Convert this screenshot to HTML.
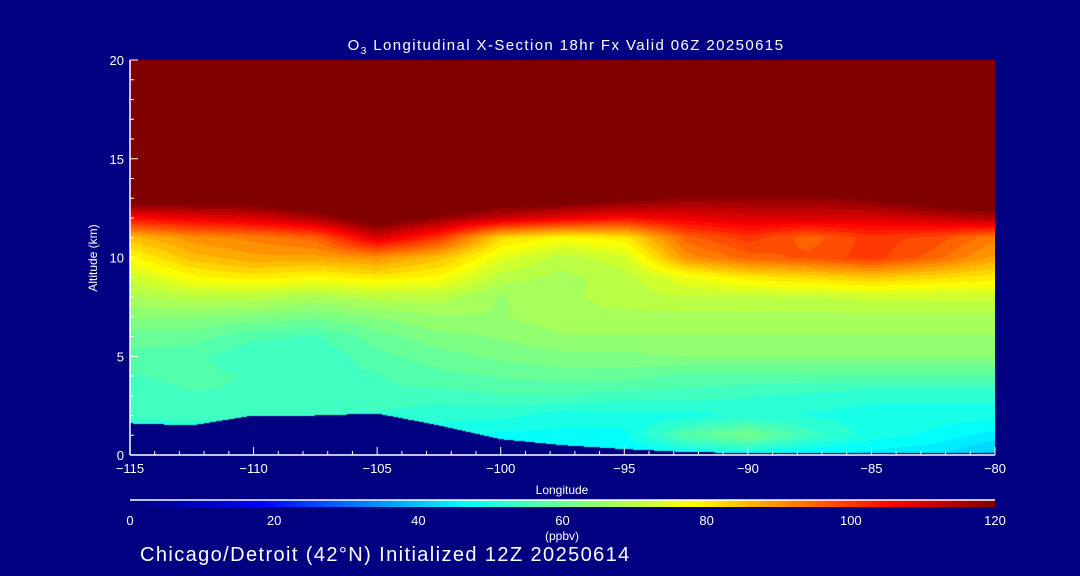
<!DOCTYPE html>
<html><head><meta charset="utf-8"><style>
html,body{margin:0;padding:0;background:#000080;width:1080px;height:576px;overflow:hidden}
#wrap{position:relative;width:1080px;height:576px}
svg text{font-family:"Liberation Sans",sans-serif;fill:#fff}
canvas{position:absolute;left:130px;top:60px}
</style></head><body>
<div id="wrap">
<canvas id="cv" width="865" height="395"></canvas>
<svg id="sv" width="1080" height="576" style="position:absolute;left:0;top:0">
<defs><linearGradient id="jet" x1="0" x2="1" y1="0" y2="0">
<stop offset="0" stop-color="#000080"/><stop offset="0.15" stop-color="#0000ff"/>
<stop offset="0.39" stop-color="#00ffff"/><stop offset="0.525" stop-color="#80ff80"/>
<stop offset="0.65" stop-color="#ffff00"/><stop offset="0.883" stop-color="#ff0000"/>
<stop offset="1" stop-color="#800000"/></linearGradient></defs>
<text x="566" y="50" text-anchor="middle" font-size="15" letter-spacing="1.4">O<tspan font-size="10" dy="4">3</tspan><tspan dy="-4"> Longitudinal X-Section 18hr  Fx Valid 06Z 20250615</tspan></text>
<text transform="translate(97,258) rotate(-90)" text-anchor="middle" font-size="12">Altitude (km)</text>
<text x="562" y="494" text-anchor="middle" font-size="12">Longitude</text>
<rect x="130" y="500" width="865" height="7" fill="url(#jet)"/>
<line x1="130" y1="500" x2="995" y2="500" stroke="#fff" stroke-width="1.5"/>
<text x="562" y="540" text-anchor="middle" font-size="12">(ppbv)</text>
<text x="140" y="561" font-size="20" letter-spacing="1.4">Chicago/Detroit (42°N) Initialized 12Z 20250614</text>
<g id="axes"></g>
</svg>
</div>
<script>
const lons=[-115,-112.5,-110,-107.5,-105,-102.5,-100,-97.5,-95,-92.5,-90,-87.5,-85,-82.5,-80];
const alts=[0,1,2,3,4,5,6,7,8,9,10,11,12,13,14,15,16,17,18,19,20];
const o3=[
[45,45,45,45,45,45,45,46,46,47,48,46,45,44,40],
[50,50,50,50,50,50,48,48,48,58,62,55,50,48,45],
[55,55,55,54,53,52,52,50,50,50,52,51,50,50,50],
[55,56,56,56,56,55,56,56,55,55,54,53,52,52,52],
[56,57,56,55,56,58,59,60,60,58,58,58,58,58,58],
[58,57,54,54,58,60,62,63,63,64,64,64,64,64,64],
[60,60,57,56,60,63,64,66,66,66,66,66,66,66,66],
[64,64,63,62,64,66,66,68,68,68,68,68,68,68,68],
[68,70,70,68,70,70,66,68,70,71,71,71,72,72,72],
[72,78,80,78,80,78,70,68,70,76,80,82,84,82,80],
[78,85,88,88,90,85,75,70,73,90,95,97,100,95,88],
[85,90,92,95,110,100,82,78,80,95,100,95,100,98,92],
[105,108,110,115,125,118,112,108,105,108,110,110,110,112,115],
[125,125,125,128,130,128,126,125,122,118,118,118,120,125,128],
[130,130,130,130,130,130,130,130,130,128,128,128,130,130,130],
[130,130,130,130,130,130,130,130,130,130,130,130,130,130,130],
[130,130,130,130,130,130,130,130,130,130,130,130,130,130,130],
[130,130,130,130,130,130,130,130,130,130,130,130,130,130,130],
[130,130,130,130,130,130,130,130,130,130,130,130,130,130,130],
[130,130,130,130,130,130,130,130,130,130,130,130,130,130,130],
[130,130,130,130,130,130,130,130,130,130,130,130,130,130,130]];
const terrain=[1.6,1.5,2.0,2.0,2.1,1.5,0.8,0.5,0.3,0.15,0.1,0.1,0.1,0.1,0.1];
const xTicks=[-115,-110,-105,-100,-95,-90,-85,-80];
const yTicks=[0,5,10,15,20];
const cbTicks=[0,20,40,60,80,100,120];

const X0=130,X1=995,Y0=455,Y1=60;
const xs=l=>X0+(l+115)/35*(X1-X0);
const ys=a=>Y0-a/20*(Y0-Y1);
const stops=[[0,[0,0,128]],[18,[0,0,255]],[47,[0,255,255]],[63,[128,255,128]],[78,[255,255,0]],[106,[255,0,0]],[120,[128,0,0]]];
function jet(v){v=Math.max(0,Math.min(120,v));
 for(let i=1;i<stops.length;i++){if(v<=stops[i][0]){const a=stops[i-1],b=stops[i],t=(v-a[0])/(b[0]-a[0]);
 return a[1].map((c,k)=>Math.round(c+(b[1][k]-c)*t));}}return [128,0,0];}
function interp(grid,x){let i=0;while(i<grid.length-2&&x>grid[i+1])i++;return [i,(x-grid[i])/(grid[i+1]-grid[i])];}
const cv=document.getElementById('cv'),ctx=cv.getContext('2d');
const W=cv.width,H=cv.height,img=ctx.createImageData(W,H);
for(let py=0;py<H;py++){const alt=(Y0-(Y1+py+0.5))/(Y0-Y1)*20;const [j,ty]=interp(alts,alt);
 for(let px=0;px<W;px++){const lon=-115+(px+0.5)/W*35;const [i,tx]=interp(lons,lon);
  const th=terrain[i]+(terrain[i+1]-terrain[i])*tx;let c;
  if(alt<th)c=[0,0,128];else{
  const v=(o3[j][i]*(1-tx)+o3[j][i+1]*tx)*(1-ty)+(o3[j+1][i]*(1-tx)+o3[j+1][i+1]*tx)*ty;
  c=jet(Math.round(v/2.5)*2.5);}
  const k=(py*W+px)*4;img.data[k]=c[0];img.data[k+1]=c[1];img.data[k+2]=c[2];img.data[k+3]=255;}}
ctx.putImageData(img,0,0);

const NS='http://www.w3.org/2000/svg',g=document.getElementById('axes');
function mk(t,a){const e=document.createElementNS(NS,t);for(const k in a)e.setAttribute(k,a[k]);g.appendChild(e);return e;}
let e=mk('line',{x1:X0,y1:Y0,x2:X1,y2:Y0,stroke:'#fff','stroke-width':1.5});


e=mk('line',{x1:X0,y1:Y0,x2:X0,y2:Y1,stroke:'#fff','stroke-width':1.5});


for(let l=-115;l<=-80;l++){const x=xs(l),maj=l%5===0;
 e=mk('line',{x1:x,y1:Y0,x2:x,y2:Y0-(maj?8:4),stroke:'#fff'});
 
 }
xTicks.forEach(l=>{e=mk('text',{x:xs(l),y:473,'text-anchor':'middle','font-size':13});e.textContent=(l<0?'\u2212':'')+Math.abs(l);
 
 });
for(let a=0;a<=20;a++){const y=ys(a),maj=a%5===0;
 e=mk('line',{x1:X0,y1:y,x2:X0+(maj?8:4),y2:y,stroke:'#fff'});
 
 }
yTicks.forEach(a=>{e=mk('text',{x:124,y:ys(a)+5,'text-anchor':'end','font-size':13});e.textContent=a;
 
 });
cbTicks.forEach(v=>{e=mk('text',{x:X0+v/120*(X1-X0),y:525,'text-anchor':'middle','font-size':13});e.textContent=v;
 
 });
</script>
</body></html>
